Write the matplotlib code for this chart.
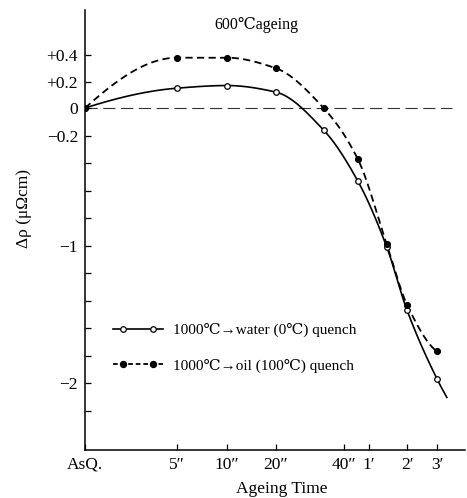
import numpy as np
import matplotlib
matplotlib.use("Agg")
import matplotlib.pyplot as plt
from matplotlib.ticker import FixedLocator, FixedFormatter
from matplotlib.legend_handler import HandlerLine2D
from matplotlib.lines import Line2D

# ---------------- data ----------------
tick_seconds = [0, 5, 10, 20, 40, 60, 120, 180]
tick_labels = ["AsQ.", "5″", "10″", "20″", "40″", "1′", "2′", "3′"]

water_t = [0, 5, 10, 20, 34, 51, 88, 120, 180]
water_v = [0.0, 0.15, 0.17, 0.12, -0.16, -0.53, -1.01, -1.47, -1.97]
water_tail_t = [202]          # where the drawn curve ends beyond the last point
water_tail_v = [-2.11]

oil_t = [0, 5, 10, 20, 34, 51, 88, 120, 180]
oil_v = [0.0, 0.38, 0.38, 0.30, 0.0, -0.37, -0.99, -1.43, -1.77]

y_ticks = [0.4, 0.2, 0.0, -0.2, -0.4, -0.6, -0.8, -1.0, -1.2, -1.4, -1.6, -1.8, -2.0, -2.2]
y_labels = ["+0.4", "+0.2", "0", "−0.2", "", "", "", "−1", "", "", "", "", "−2", ""]

legend_labels = ["1000℃→water (0℃) quench", "1000℃→oil (100℃) quench"]
title_text = "600℃ageing"

# ---------------- style ----------------
FAM = ["Liberation Serif", "DejaVu Serif", "Noto Sans CJK JP"]
plt.rcParams["font.family"] = FAM
plt.rcParams["mathtext.fontset"] = "dejavuserif"

# hand-drawn, non-uniform time axis (seconds -> axis position)
_ks = np.array([0, 5, 10, 20, 40, 60, 120, 180, 240], float)
_kp = np.array([85, 177, 227, 276, 344, 369, 407, 437, 465], float)

def fx(t):
    return np.interp(t, _ks, _kp)

def fx_inv(p):
    return np.interp(p, _kp, _ks)

POS = 132.5 / 137.5  # positive side slightly compressed in original

def fy(v):
    v = np.asarray(v, float)
    return np.where(v > 0, v * POS, v)

def fy_inv(v):
    v = np.asarray(v, float)
    return np.where(v > 0, v / POS, v)

fig = plt.figure(figsize=(4.67, 4.98), dpi=100)
ax = fig.add_axes([85 / 467, 48 / 498, 380 / 467, 440 / 498])
ax.set_xscale("function", functions=(fx, fx_inv))
ax.set_yscale("function", functions=(fy, fy_inv))
ax.set_xlim(0, 240)
ax.set_ylim(-2.487, 0.74)


def pchip(x, y, xs):
    x = np.asarray(x, float); y = np.asarray(y, float)
    h = np.diff(x); d = np.diff(y) / h
    n = len(x); m = np.zeros(n)
    for k in range(1, n - 1):
        if d[k - 1] * d[k] <= 0:
            m[k] = 0
        else:
            w1 = 2 * h[k] + h[k - 1]; w2 = h[k] + 2 * h[k - 1]
            m[k] = (w1 + w2) / (w1 / d[k - 1] + w2 / d[k])
    m[0] = ((2 * h[0] + h[1]) * d[0] - h[0] * d[1]) / (h[0] + h[1])
    if np.sign(m[0]) != np.sign(d[0]):
        m[0] = 0
    m[-1] = ((2 * h[-1] + h[-2]) * d[-1] - h[-1] * d[-2]) / (h[-1] + h[-2])
    if np.sign(m[-1]) != np.sign(d[-1]):
        m[-1] = 0
    out = np.empty_like(xs)
    idx = np.clip(np.searchsorted(x, xs) - 1, 0, n - 2)
    for j, (xv, i) in enumerate(zip(xs, idx)):
        hh = h[i]; s = (xv - x[i]) / hh
        h00 = 2 * s**3 - 3 * s**2 + 1; h10 = s**3 - 2 * s**2 + s
        h01 = -2 * s**3 + 3 * s**2; h11 = s**3 - s**2
        out[j] = h00 * y[i] + h10 * hh * m[i] + h01 * y[i + 1] + h11 * hh * m[i + 1]
    return out


def smooth(t, v):
    X = fx(np.asarray(t, float)); Y = fy(np.asarray(v, float))
    Xs = np.linspace(X[0], X[-1], 400)
    Ys = pchip(X, Y, Xs)
    return fx_inv(Xs), fy_inv(Ys)

# zero reference line
ax.plot([0, 212], [0, 0], color="#333333", lw=0.8, ls=(0, (11, 5)), zorder=1)

# curves
wx, wy = smooth(water_t + water_tail_t, water_v + water_tail_v)
ox, oy = smooth(oil_t, oil_v)
ax.plot(wx, wy, color="black", lw=1.2, solid_capstyle="butt", zorder=2)
ax.plot(ox, oy, color="black", lw=1.3, ls=(0, (4.0, 2.4)), zorder=2)
ax.plot(water_t, water_v, ls="none", marker="o", ms=4.0, mfc="white", mec="black", mew=0.9, zorder=3)
ax.plot(oil_t, oil_v, ls="none", marker="o", ms=4.3, mfc="black", mec="black", mew=0.8, zorder=3)


class InsetMarkerHandler(HandlerLine2D):
    """Line spans the full handle; the two markers sit inset from its ends."""
    def create_artists(self, legend, orig_handle, xdescent, ydescent,
                       width, height, fontsize, trans):
        pad = 0.65 * fontsize
        x = np.array([-xdescent, -xdescent + pad, -xdescent + width - pad, -xdescent + width])
        y = np.full_like(x, (height - ydescent) / 2)
        line = Line2D(x, y)
        self.update_prop(line, orig_handle, legend)
        line.set_markevery([1, 2])
        line.set_transform(trans)
        return [line]


# legend proxies
h1, = ax.plot([], [], color="black", lw=1.2, marker="o", ms=4.0, mfc="white", mec="black", mew=0.9)
h2, = ax.plot([], [], color="black", lw=1.3, ls=(0, (2.6, 1.6)), marker="o", ms=4.3, mfc="black", mec="black")
leg = ax.legend([h1, h2], legend_labels, loc="upper left",
                bbox_to_anchor=((113 - 85) / 380, (450 - 323) / 440),
                frameon=False, numpoints=2, handlelength=3.3, handletextpad=0.65,
                labelspacing=1.4, prop={"family": FAM, "size": 11},
                borderaxespad=0, borderpad=0,
                handler_map={h1: InsetMarkerHandler(), h2: InsetMarkerHandler()})

# axes styling
for s in ["top", "right"]:
    ax.spines[s].set_visible(False)
for s in ["left", "bottom"]:
    ax.spines[s].set_linewidth(1.1)

ax.xaxis.set_major_locator(FixedLocator(tick_seconds))
ax.xaxis.set_major_formatter(FixedFormatter(tick_labels))
ax.xaxis.set_minor_locator(FixedLocator([]))
ax.yaxis.set_major_locator(FixedLocator(y_ticks))
ax.yaxis.set_major_formatter(FixedFormatter(y_labels))
ax.yaxis.set_minor_locator(FixedLocator([]))
ax.tick_params(axis="both", direction="in", length=4, width=0.9, labelsize=12.5)
ax.tick_params(axis="x", pad=5)
ax.tick_params(axis="y", pad=5)

ax.set_xlabel("Ageing Time", fontsize=12.5)
ax.xaxis.set_label_coords((282 - 85) / 380, -(481 - 450) / 440)
ax.set_ylabel("Δρ (μΩcm)", fontsize=12.5)
ax.yaxis.set_label_coords(-(85 - 32) / 380, (450 - 209) / 440)

fig.text(256 / 467, 1 - 25 / 498, title_text, ha="center", va="center", fontsize=11.5)

fig.savefig("out.png", dpi=100)
